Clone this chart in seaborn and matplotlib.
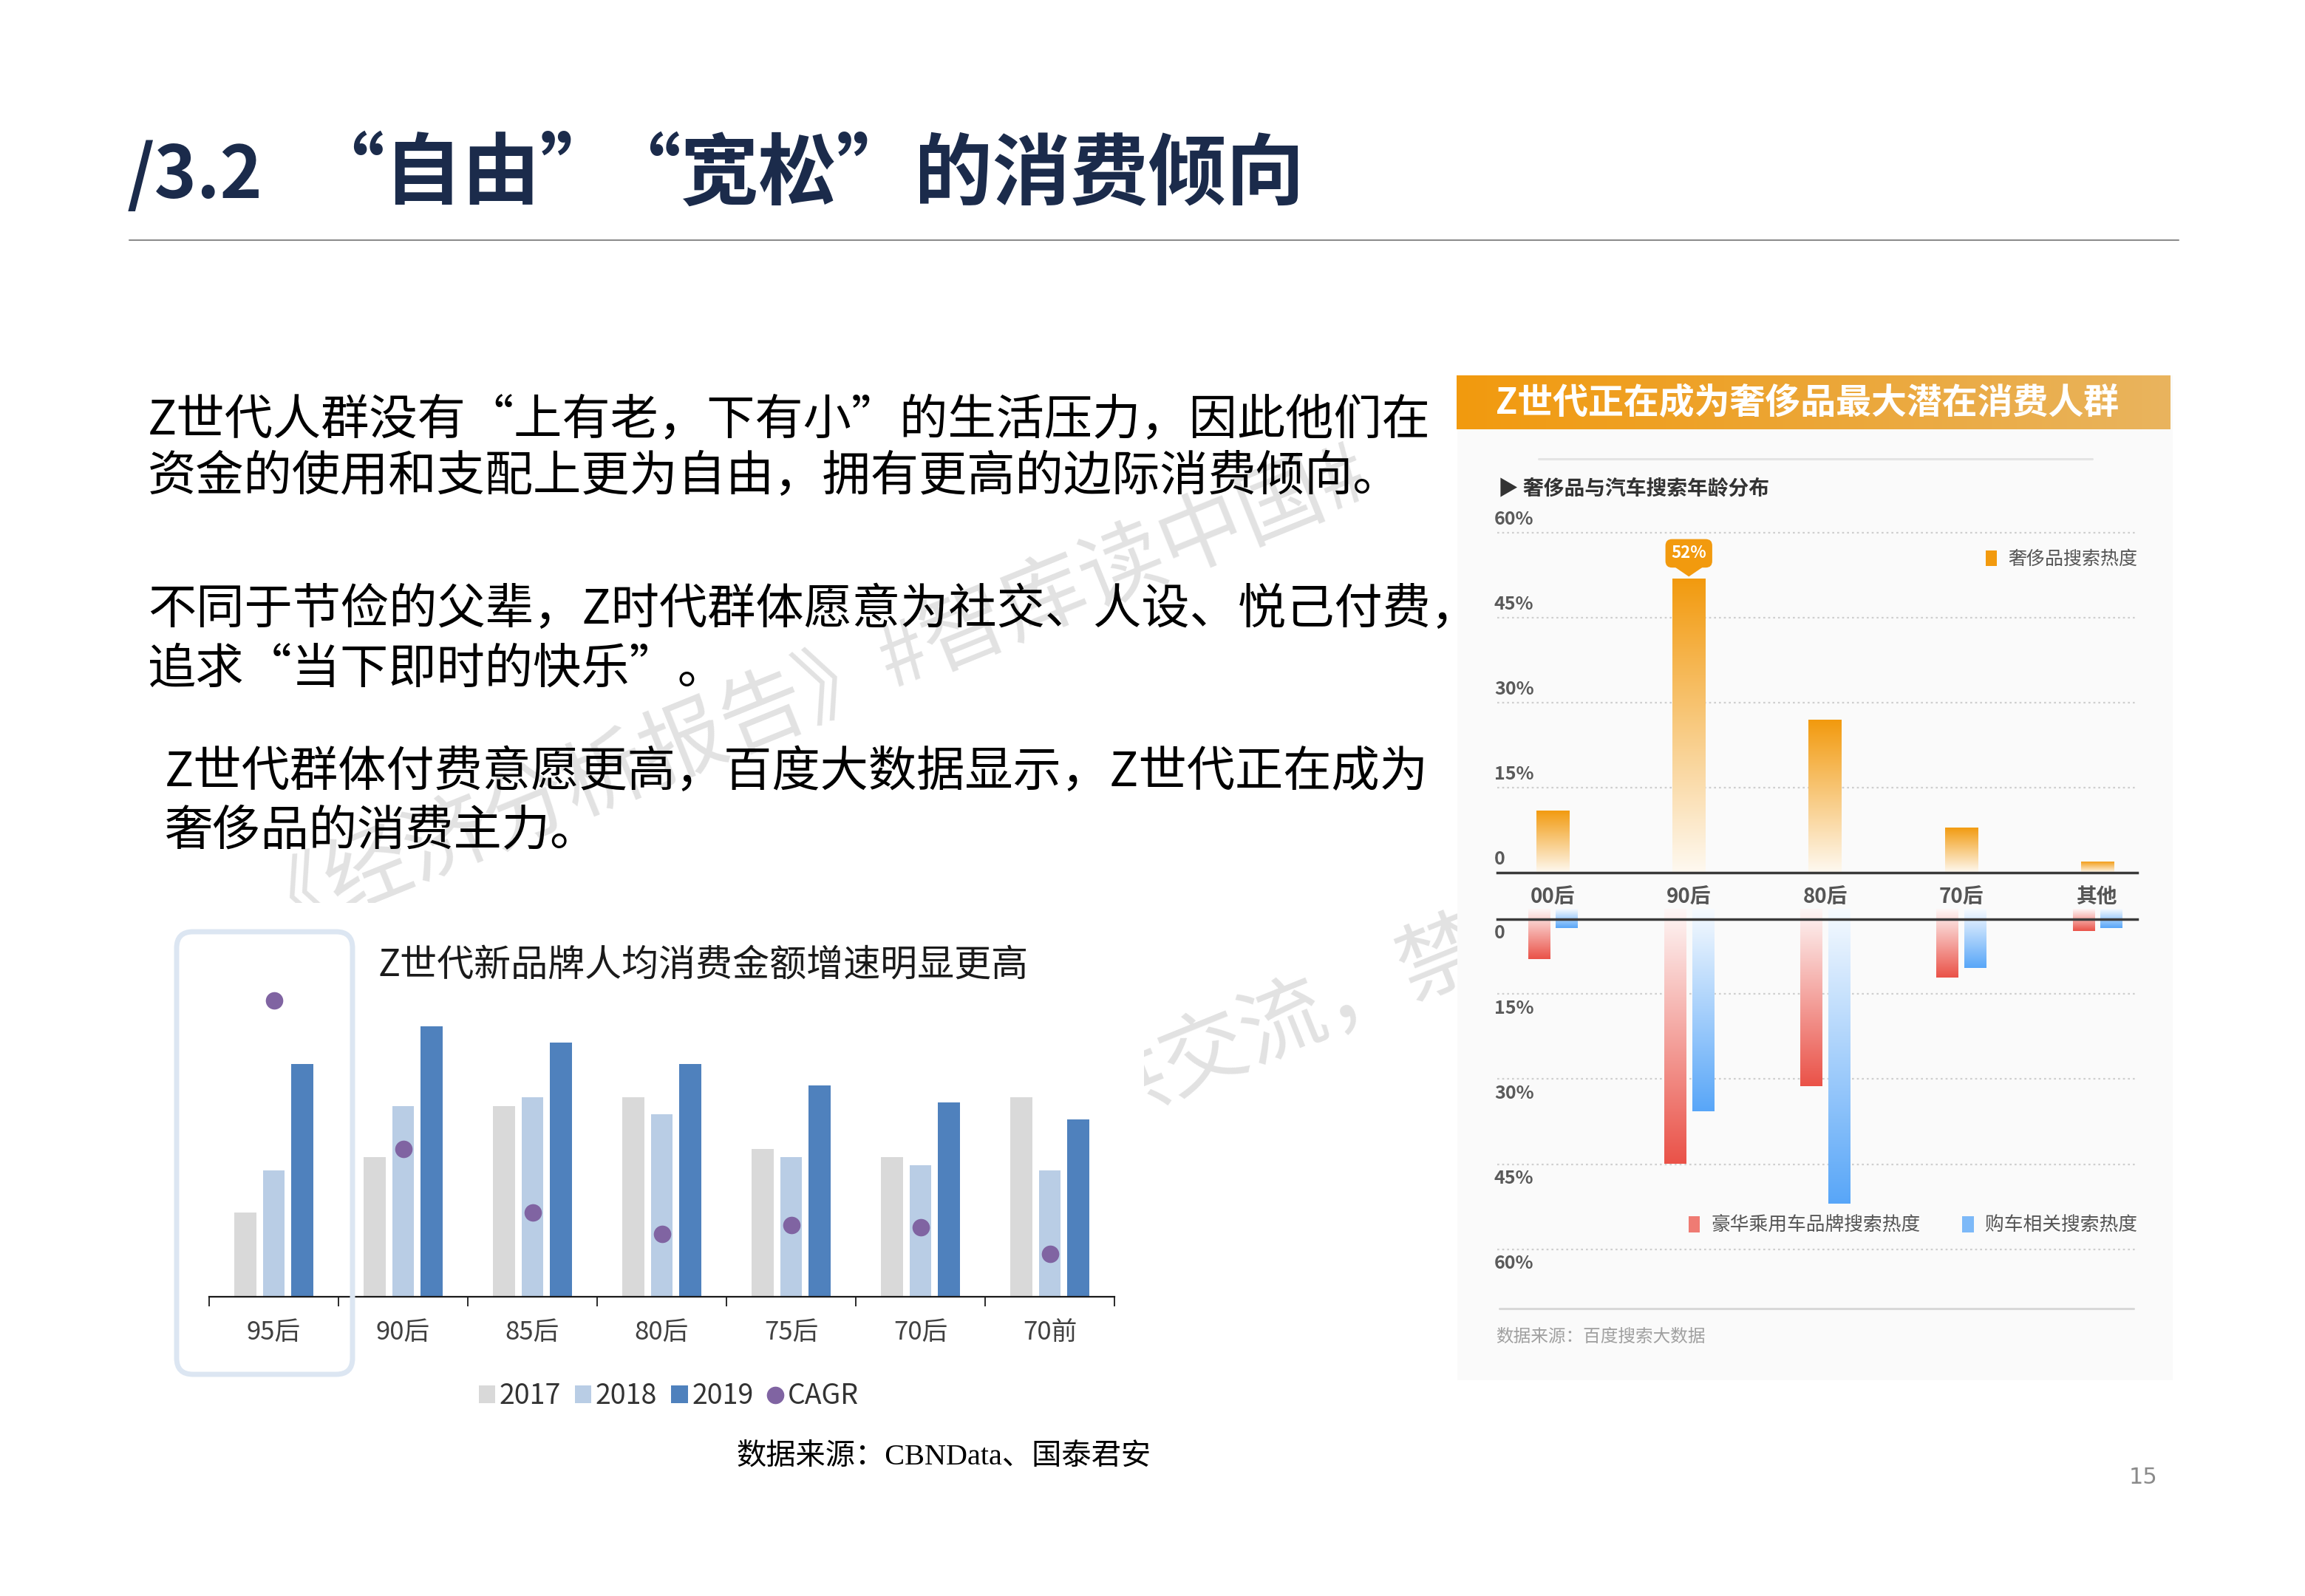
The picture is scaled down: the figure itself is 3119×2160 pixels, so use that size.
import numpy as np
import pandas as pd
import matplotlib
matplotlib.use("Agg")
import matplotlib.pyplot as plt
import seaborn as sns
from matplotlib.patches import Patch, FancyBboxPatch, Polygon
from matplotlib.lines import Line2D
from matplotlib.colors import LinearSegmentedColormap, to_rgb
from matplotlib.transforms import IdentityTransform

# ---- data: left chart (bar heights, relative units) ----
gen_groups = ['95后', '90后', '85后', '80后', '75后', '70后', '70前']
years = ['2017', '2018', '2019']
spend_2017 = [114, 189, 258, 270, 200, 189, 270]
spend_2018 = [171, 258, 270, 247, 189, 178, 171]
spend_2019 = [315, 366, 344, 315, 286, 263, 240]
cagr_pos = [401, 200, 114, 85, 97, 94, 58]

# ---- data: right chart (percent) ----
age_groups = ['00后', '90后', '80后', '70后', '其他']
luxury_search = [11, 52, 27, 8, 2]
car_series = ['豪华乘用车品牌搜索热度', '购车相关搜索热度']
luxury_car_search = [8.8, 44.9, 31.3, 12.1, 3.9]
car_buy_search = [3.3, 35.7, 52.0, 10.4, 3.3]
pct_ticks = [0, 15, 30, 45, 60]

# ---- style ----
sns.set_style('white')
plt.rcParams['font.family'] = ['Noto Sans CJK SC', 'DejaVu Sans']

W, H = 3119, 2160
fig = plt.figure(figsize=(W / 100, H / 100), dpi=100)


def px_axes(x0, y0, x1, y1, **kw):
    return fig.add_axes([x0 / W, 1 - y1 / H, (x1 - x0) / W, (y1 - y0) / H], **kw)


def ftext(x, y, s, **kw):
    return fig.text(x / W, 1 - y / H, s, **kw)


def gradient_bars(ax, fade=0.06):
    # replace each bar's flat fill by a vertical fade from almost white (at 0) to its colour
    for p in list(ax.patches):
        c = np.array(to_rgb(p.get_facecolor()))
        pale = 1 - (1 - c) * fade
        cmap = LinearSegmentedColormap.from_list('g', [pale, c])
        x0, w, h = p.get_x(), p.get_width(), p.get_height()
        grad = np.linspace(0, 1, 256).reshape(-1, 1)
        im = ax.imshow(grad, extent=[x0, x0 + w, 0, h], origin='lower',
                       aspect='auto', cmap=cmap, zorder=2)
        im.set_clip_path(p)
        p.set_facecolor('none')


# ---- watermarks (behind the pictures) ----
wm = dict(fontsize=83, color='#e2e2e2', rotation=22, rotation_mode='anchor',
          ha='left', va='center', zorder=-5)
ftext(335, 1226, '《经济分析报告》#智库读中国#', **wm)
ftext(1363, 1537, '仅供交流，禁止商用', **wm)

# ---- slide title ----
navy = '#1b2b4b'
ftext(172, 240, '/3.2', fontsize=70, fontweight='bold', color=navy, ha='left', va='center')
ftext(414, 237, '“自由”', fontsize=76, fontweight='bold', color=navy, ha='left', va='center')
ftext(815, 237, '“宽松”的消费倾向', fontsize=76, fontweight='bold', color=navy, ha='left', va='center')
fig.add_artist(Line2D([175 / W, 2948 / W], [1 - 325 / H, 1 - 325 / H], color='#8c8c8c', lw=1.5))

# ---- body text ----
body = dict(fontsize=47, color='#000000', ha='left', va='center')
ftext(200, 570, 'Z世代人群没有“上有老，下有小”的生活压力，因此他们在', **body)
ftext(200, 646, '资金的使用和支配上更为自由，拥有更高的边际消费倾向。', **body)
ftext(200, 826, '不同于节俭的父辈，Z时代群体愿意为社交、人设、悦己付费，', **body)
ftext(200, 906, '追求“当下即时的快乐”。', **body)
ftext(223, 1046, 'Z世代群体付费意愿更高，百度大数据显示，Z世代正在成为', **body)
ftext(223, 1126, '奢侈品的消费主力。', **body)

# ---- left chart ----
bg_left = px_axes(230, 1222, 1548, 1932)
bg_left.set_facecolor('white')
bg_left.set_xticks([]); bg_left.set_yticks([])
for s in bg_left.spines.values():
    s.set_visible(False)

ax1 = px_axes(283, 1325, 1508, 1755)
df_spend = pd.DataFrame({
    'group': gen_groups * 3,
    'year': sum([[y] * len(gen_groups) for y in years], []),
    'value': spend_2017 + spend_2018 + spend_2019,
})
year_colors = ['#d9d9d9', '#b9cde5', '#4f81bd']
sns.barplot(data=df_spend, x='group', y='value', hue='year', order=gen_groups,
            palette=year_colors, width=0.66, gap=0.23, saturation=1, linewidth=0,
            legend=False, ax=ax1)
cagr_color = '#8064a2'
sns.stripplot(x=gen_groups, y=cagr_pos, order=gen_groups, jitter=False, color=cagr_color,
              size=17, linewidth=0, ax=ax1, zorder=5)
ax1.set_xlim(-0.5, 6.5)
ax1.set_ylim(0, 430)
ax1.set_xlabel(''); ax1.set_ylabel('')
ax1.set_yticks([])
for s in ['top', 'right', 'left']:
    ax1.spines[s].set_visible(False)
ax1.spines['bottom'].set_color('#1a1a1a')
ax1.spines['bottom'].set_linewidth(1.6)
ax1.set_xticks(np.arange(-0.5, 7, 1), minor=True)
ax1.tick_params(axis='x', which='minor', length=9, width=1.3, color='#1a1a1a', direction='out', bottom=True)
ax1.tick_params(axis='x', which='major', length=0, pad=22, labelsize=25, labelcolor='#404040')
ax1.set_facecolor('none')

ftext(512, 1307, 'Z世代新品牌人均消费金额增速明显更高', fontsize=36, color='#1a1a1a', ha='left', va='center')

handles = [Patch(facecolor=c, edgecolor='none', label=y) for c, y in zip(year_colors, years)]
handles.append(Line2D([], [], marker='o', ls='', color=cagr_color, markersize=16, label='CAGR'))
ax1.legend(handles=handles, loc='center', bbox_to_anchor=(905 / W, 1 - 1890 / H),
           bbox_transform=fig.transFigure, ncol=4, frameon=False, fontsize=27,
           handlelength=0.6, handleheight=0.6, handletextpad=0.15, columnspacing=0.5,
           labelcolor='#333333')

fig.add_artist(FancyBboxPatch((239, H - 1860), 238, 599, boxstyle='round,pad=0,rounding_size=22',
                              transform=IdentityTransform(), facecolor='none',
                              edgecolor='#dce6f2', lw=5, zorder=4))

# ---- right panel ----
bg_right = px_axes(1972, 508, 2940, 1868)
bg_right.set_facecolor('#fafafa')
bg_right.set_xticks([]); bg_right.set_yticks([])
for s in bg_right.spines.values():
    s.set_visible(False)

band = px_axes(1971, 508, 2937, 581)
band_cmap = LinearSegmentedColormap.from_list('band', ['#f29a0e', '#eca636', '#e9b45e'])
band.imshow(np.linspace(0, 1, 256).reshape(1, -1), aspect='auto', cmap=band_cmap,
            extent=[0, 1, 0, 1])
band.set_axis_off()
ftext(2024, 546, 'Z世代正在成为奢侈品最大潜在消费人群', fontsize=34.5, fontweight='bold',
      color='white', ha='left', va='center')
fig.add_artist(Line2D([2082 / W, 2831 / W], [1 - 621 / H, 1 - 621 / H], color='#e4e4e4', lw=2.2))
ftext(2027, 661, '▶ 奢侈品与汽车搜索年龄分布', fontsize=20, fontweight='bold', color='#333333',
      ha='left', va='center', family=['Noto Sans CJK SC', 'DejaVu Sans'])

x_left, x_right = -0.407, 4.293
orange = '#f29a0e'

# top: luxury search heat
ax2 = px_axes(2026, 706, 2892, 1181)
sns.barplot(x=age_groups, y=luxury_search, order=age_groups, color=orange, width=0.24,
            saturation=1, linewidth=0, ax=ax2)
gradient_bars(ax2)
ax2.set_xlim(x_left, x_right)
ax2.set_ylim(0, 62)
ax2.set_yticks(pct_ticks[1:])
ax2.grid(axis='y', color='#cfcfcf', ls=(0, (1.2, 1.8)), lw=1.6)
ax2.tick_params(axis='y', left=False, labelleft=False)
ax2.tick_params(axis='x', length=0, pad=14, labelsize=20, labelcolor='#555555')
for lab in ax2.get_xticklabels():
    lab.set_fontweight('bold')
for s in ['top', 'right', 'left']:
    ax2.spines[s].set_visible(False)
ax2.spines['bottom'].set_color('#3a3a3a')
ax2.spines['bottom'].set_linewidth(2.5)
ax2.set_facecolor('none')
for v in pct_ticks:
    ax2.annotate('0' if v == 0 else f'{v}%', xy=(0, v), xycoords=('axes fraction', 'data'),
                 xytext=(-3, 13), textcoords='offset points', ha='left', va='center',
                 fontsize=18, fontweight='bold', color='#5a5a5a')

# 52% callout on the peak bar
peak = int(np.argmax(luxury_search))
pv = luxury_search[peak]
ax2.add_patch(Polygon([(peak - 0.11, pv + 2.1), (peak + 0.11, pv + 2.1), (peak, pv + 0.3)],
                      closed=True, facecolor=orange, edgecolor='none', zorder=6))
ax2.text(peak, pv + 4.4, f'{pv}%', ha='center', va='center', fontsize=16, fontweight='bold',
         color='white', zorder=7,
         bbox=dict(boxstyle='round,pad=0.35,rounding_size=0.4', facecolor=orange, edgecolor='none'))
ax2.legend(handles=[Patch(facecolor=orange, edgecolor='none', label='奢侈品搜索热度')],
           loc='center right', bbox_to_anchor=(2892 / W, 1 - 757 / H), bbox_transform=fig.transFigure,
           frameon=False, fontsize=18, handlelength=0.6, handleheight=0.9, handletextpad=0.6,
           borderpad=0, borderaxespad=0, labelcolor='#555555')

# bottom: car search heat (downward)
ax3 = px_axes(2026, 1244, 2892, 1706)
df_car = pd.DataFrame({
    'age': age_groups * 2,
    'series': [car_series[0]] * len(age_groups) + [car_series[1]] * len(age_groups),
    'value': luxury_car_search + car_buy_search,
})
car_colors = ['#ea5248', '#58a6f8']
sns.barplot(data=df_car, x='age', y='value', hue='series', order=age_groups, palette=car_colors,
            width=0.41, gap=0.23, saturation=1, linewidth=0, legend=False, ax=ax3)
gradient_bars(ax3, fade=0.05)
ax3.set_xlim(x_left, x_right)
ax3.set_ylim(62, 1.8)
ax3.set_yticks(pct_ticks[1:])
ax3.grid(axis='y', color='#cfcfcf', ls=(0, (1.2, 1.8)), lw=1.6)
ax3.tick_params(axis='y', left=False, labelleft=False)
ax3.tick_params(axis='x', bottom=False, labelbottom=False)
ax3.set_xlabel(''); ax3.set_ylabel('')
for s in ['bottom', 'right', 'left']:
    ax3.spines[s].set_visible(False)
ax3.spines['top'].set_color('#3a3a3a')
ax3.spines['top'].set_linewidth(2.5)
ax3.set_facecolor('none')
for v in pct_ticks:
    ax3.annotate('0' if v == 0 else f'{v}%', xy=(0, max(v, 1.8)), xycoords=('axes fraction', 'data'),
                 xytext=(-3, -14), textcoords='offset points', ha='left', va='center',
                 fontsize=18, fontweight='bold', color='#5a5a5a')
ax3.legend(handles=[Patch(facecolor=c, edgecolor='none', label=s) for c, s in zip(['#ef7b73', '#7db9f8'], car_series)],
           loc='center right', bbox_to_anchor=(2892 / W, 1 - 1659 / H), bbox_transform=fig.transFigure,
           ncol=2, frameon=False, fontsize=18.5, handlelength=0.6, handleheight=0.9, handletextpad=0.6,
           columnspacing=2.2, borderpad=0, borderaxespad=0, labelcolor='#555555')

fig.add_artist(Line2D([2029 / W, 2887 / W], [1 - 1771 / H, 1 - 1771 / H], color='#d8d8d8', lw=2.2))
ftext(2024, 1809, '数据来源：百度搜索大数据', fontsize=17, color='#a0a0a0', ha='left', va='center')

# ---- footer ----
ftext(1277, 1972, '数据来源：CBNData、国泰君安', fontsize=29, color='#000000', ha='center', va='center',
      family=['Liberation Serif', 'Noto Sans CJK SC'])
ftext(2900, 2000, '15', fontsize=22, color='#8a8a8a', ha='center', va='center',
      family=['Liberation Sans Narrow', 'DejaVu Sans'])

fig.savefig('out.png', dpi=100, facecolor='white')
